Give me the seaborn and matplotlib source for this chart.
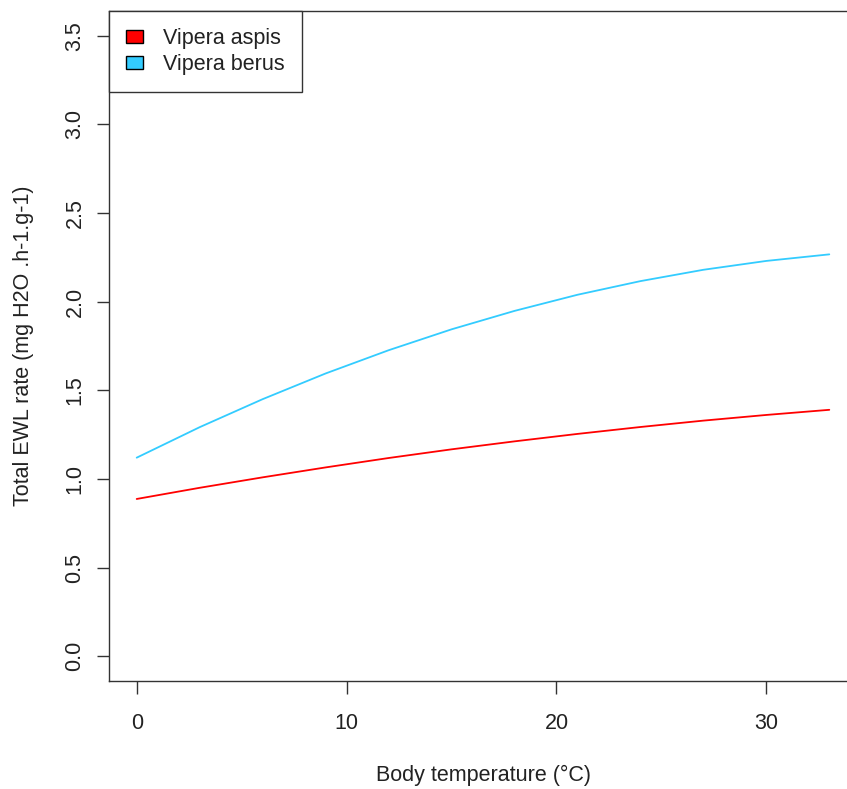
import numpy as np
import pandas as pd
import matplotlib
matplotlib.use("Agg")
import matplotlib.pyplot as plt
import seaborn as sns
from matplotlib.patches import Patch

# Data
temperature = [0, 3, 6, 9, 12, 15, 18, 21, 24, 27, 30, 33]
aspis_ewl = [0.887, 0.950, 1.009, 1.065, 1.118, 1.167, 1.212, 1.254, 1.293, 1.329, 1.361, 1.390]
berus_ewl = [1.120, 1.292, 1.450, 1.595, 1.726, 1.844, 1.948, 2.039, 2.116, 2.180, 2.230, 2.267]
species = ["Vipera aspis", "Vipera berus"]
colors = ["#FF0000", "#33CCFF"]
x_ticks = [0, 10, 20, 30]
y_ticks = [0.0, 0.5, 1.0, 1.5, 2.0, 2.5, 3.0, 3.5]

df = pd.DataFrame({
    "temp": temperature * 2,
    "ewl": aspis_ewl + berus_ewl,
    "species": [species[0]] * len(temperature) + [species[1]] * len(temperature),
})

sns.set_style("ticks")
plt.rcParams["font.family"] = ["Liberation Sans", "DejaVu Sans"]

fig = plt.figure(figsize=(8.47, 7.89), dpi=100)
W, H = 847, 789
left, right, top, bottom = 109, 857, 11, 681
ax = fig.add_axes([left / W, (H - bottom) / H, (right - left) / W, (bottom - top) / H])

sns.lineplot(data=df, x="temp", y="ewl", hue="species", palette=colors,
             ax=ax, linewidth=1.3, legend=False)

ax.set_xlim(-1.32, 34.32)
ax.set_ylim(-0.14, 3.64)
ax.set_xticks(x_ticks)
ax.set_yticks(y_ticks)
ax.set_xticklabels([str(t) for t in x_ticks])
ax.set_yticklabels([f"{t:.1f}" for t in y_ticks], rotation=90, va="center")

for s in ["left", "bottom", "top"]:
    ax.spines[s].set_color("#333333")
    ax.spines[s].set_linewidth(1.0)
ax.spines["right"].set_visible(False)

ax.tick_params(axis="both", length=9, width=1.0, color="#333333",
               labelsize=15.5, labelcolor="#222222")
ax.tick_params(axis="y", pad=8)
ax.tick_params(axis="x", pad=14)

ax.set_xlabel("Body temperature (°C)", fontsize=15.5, color="#222222", labelpad=22)
ax.set_ylabel("Total EWL rate (mg H2O .h-1.g-1)", fontsize=15.5, color="#222222", labelpad=22)

handles = [Patch(facecolor=c, edgecolor="black", linewidth=1.0) for c in colors]
leg = ax.legend(handles, species, loc="upper left", bbox_to_anchor=(0, 1),
                borderaxespad=0, fancybox=False, framealpha=1, edgecolor="#333333",
                fontsize=15.5, handlelength=0.78, handleheight=0.55,
                handletextpad=0.95, borderpad=0.8, labelspacing=0.22)
leg.get_frame().set_linewidth(1.0)
for t in leg.get_texts():
    t.set_color("#222222")

fig.savefig("out.png", dpi=100)
